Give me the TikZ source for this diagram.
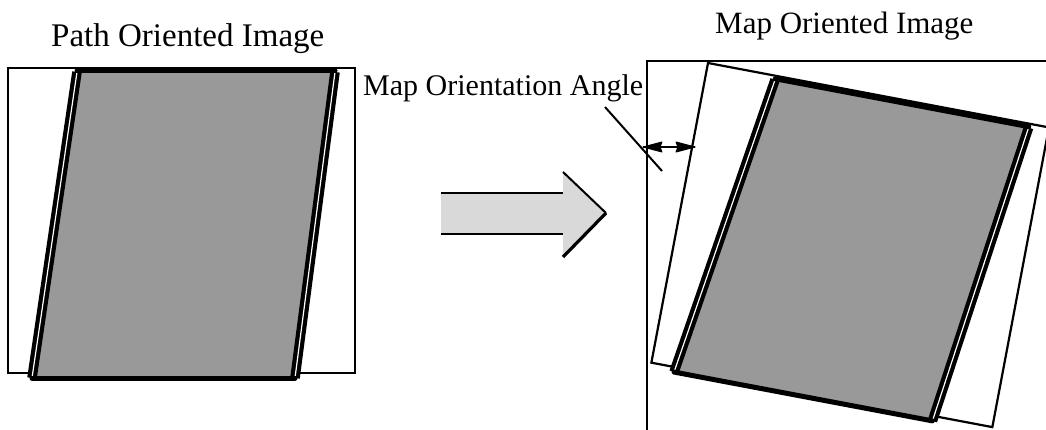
\documentclass[tikz,border=0pt]{standalone}
\usepackage{fontspec}
\setmainfont{Liberation Serif}
\usetikzlibrary{arrows.meta}
\definecolor{pargray}{RGB}{153,153,153}
\definecolor{arrgray}{RGB}{217,217,217}
\tikzset{
  framebox/.style={line width=2.6pt},
  rotbox/.style={line width=2.2pt},
  parfill/.style={fill=pargray},
  parside/.style={line width=4.2pt, double=white, double distance=1.2pt},
  partop/.style={line width=5pt, line cap=round},
  lbl/.style={anchor=base west, inner sep=0pt, font=#1},
  bigarrow/.style={fill=arrgray},
  arrline/.style={line width=2.6pt},
  headfill/.style={fill=black, draw=black, line width=1pt, line join=round},
}
\begin{document}
\begin{tikzpicture}[x=1pt,y=-1pt]
\useasboundingbox (0,0) rectangle (1046,430);
\clip (0,0) rectangle (1046,430);
\fill[white] (0,0) rectangle (1046,430);

% ---------- left figure ----------
\node[lbl={\fontsize{33}{40}\selectfont}] (ptitle) at (51,47) {Path Oriented Image};
\begin{scope}[shift={(8,68)}]
  \draw[framebox] (0,0) rectangle (347,305);
  \fill[parfill] (69,4) -- (327,4) -- (287,310) -- (24,310) -- cycle;
  \draw[parside] (69,4) -- (24,310);
  \draw[parside] (327,4) -- (287,310);
  \draw[partop] (69,3) -- (327,3);
  \draw[partop] (24,310) -- (287,310);
\end{scope}

% ---------- big arrow ----------
\fill[bigarrow] (441,193) -- (563,193) -- (563,172) -- (606,213) -- (563,257) -- (563,234) -- (441,234) -- cycle;
\draw[arrline] (441,193) -- (563,193);
\draw[arrline] (441,234) -- (563,234);
\draw[line width=2pt] (563,172) -- (606,213);
\draw[line width=3.2pt] (606,213) -- (563,257);

% ---------- right figure ----------
\node[lbl={\fontsize{31}{38}\selectfont}] (mtitle) at (715,34) {Map Oriented Image};
\draw[framebox] (647,440) -- (647,61) -- (1060,61);
\begin{scope}[shift={(708,63)}, rotate=-10.7]
  \draw[rotbox, fill=white] (0,0) rectangle (347,305);
  \fill[parfill] (69,4) -- (327,4) -- (287,310) -- (24,310) -- cycle;
  \draw[parside] (69,4) -- (24,310);
  \draw[parside] (327,4) -- (287,310);
  \draw[partop] (69,3) -- (327,3);
  \draw[partop] (24,310) -- (287,310);
\end{scope}

% ---------- angle annotation ----------
\node[lbl={\fontsize{30}{36}\selectfont}] (alabel) at (363,96) {Map Orientation Angle};
\coordinate (leadstart) at (605,107);
\coordinate (leadend) at (662,171);
\draw[line width=2pt] (leadstart) -- (leadend);
\coordinate (angL) at (643,147);
\coordinate (angR) at (695,147);
\draw[line width=2.2pt] (angL) -- (angR);
\fill[headfill] (angL) -- ++(19,-5) -- ++(-2,5) -- ++(2,5) -- cycle;
\fill[headfill] (angR) -- ++(-19,-5) -- ++(2,5) -- ++(-2,5) -- cycle;
\end{tikzpicture}
\end{document}
